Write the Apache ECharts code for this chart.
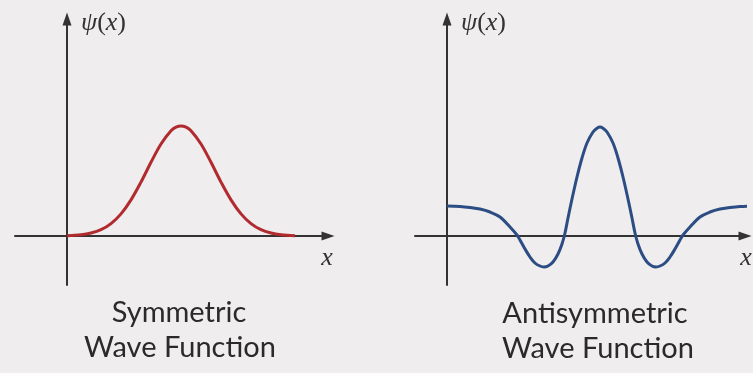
<!DOCTYPE html>
<html>
<head>
<meta charset="utf-8">
<script src="https://cdn.jsdelivr.net/npm/echarts@6/dist/echarts.min.js"></script>
<style>
body{margin:0;background:#efeded;}
#waveChart{width:753px;height:373px;}
</style>
</head>
<body>
<div id="waveChart"></div>
<script>
// symmetric wave function (left panel), x/y in units of 10px from origin
var symX = [0, 1.4, 2.4, 3.4, 4.4, 5.4, 6.4, 7.4, 8.4, 9.4, 10.4, 10.9, 11.4, 11.9, 12.4, 13.4, 14.4, 15.4, 16.4, 17.4, 18.4, 19.4, 20.4, 21.4, 22.8];
var symY = [0.03, 0.13, 0.30, 0.63, 1.24, 2.21, 3.61, 5.39, 7.37, 9.20, 10.52, 10.88, 11.0, 10.88, 10.52, 9.20, 7.37, 5.39, 3.61, 2.21, 1.24, 0.63, 0.30, 0.13, 0.03];

// antisymmetric wave function (right panel)
var antiX = [0, 1.3, 2.3, 3.3, 4.3, 5.3, 6.3, 7.0, 7.3, 7.8, 8.3, 8.8, 9.3, 9.7, 10.1, 10.6, 11.1, 11.5, 11.8, 12.1, 12.5, 13.0, 13.5, 14.0, 14.6, 15.0, 15.3,
	15.6, 16.0, 16.6, 17.1, 17.6, 18.1, 18.5, 18.8, 19.1, 19.5, 20.0, 20.5, 20.9, 21.3, 21.8, 22.3, 22.8, 23.3, 23.6, 24.3, 25.3, 26.3, 27.3, 28.3, 29.3, 30.6];
var antiY = [3.0, 2.95, 2.85, 2.7, 2.4, 1.9, 0.9, 0.1, -0.4, -1.3, -2.1, -2.7, -3.0, -3.1, -3.0, -2.6, -1.8, -0.8, 0.3, 1.8, 3.7, 5.9, 7.8, 9.3, 10.4, 10.78, 10.9,
	10.78, 10.4, 9.3, 7.8, 5.9, 3.7, 1.8, 0.3, -0.8, -1.8, -2.6, -3.0, -3.1, -3.0, -2.7, -2.1, -1.3, -0.4, 0.1, 0.9, 1.9, 2.4, 2.7, 2.85, 2.95, 3.0];

var captions = [["Symmetric", "Wave Function"], ["Antisymmetric", "Wave Function"]];
var xName = "x";

function pairs(xs, ys){
	var out = [];
	for(var i = 0; i < xs.length; i++){
		out.push([xs[i], ys[i]]);
	}
	return out;
}

var axisColor = "#333";
function makeXAxis(idx, min, max){
	return {
		type: 'value', gridIndex: idx, min: min, max: max,
		axisLine: {onZero: true, symbol: ['none', 'triangle'], symbolSize: [9, 13], lineStyle: {color: axisColor, width: 2}},
		axisTick: {show: false}, axisLabel: {show: false}, splitLine: {show: false}
	};
}
function makeYAxis(idx){
	return {
		type: 'value', gridIndex: idx, min: -4.9, max: 21.7,
		axisLine: {onZero: true, symbol: ['none', 'triangle'], symbolSize: [9, 13], lineStyle: {color: axisColor, width: 2}},
		axisTick: {show: false}, axisLabel: {show: false}, splitLine: {show: false}
	};
}

// ψ(x): italic letters, upright brackets
var nameRich = {
	i: {font: 'italic 26px "Liberation Serif"', fill: '#333'},
	r: {font: '26px "Liberation Serif"', fill: '#333'}
};
function nameText(x, y){
	return {
		type: 'text', x: x, y: y,
		style: {text: '{i|ψ}{r|(}{i|x}{r|)}', rich: nameRich, font: '26px "Liberation Serif"', fill: '#333', verticalAlign: 'middle'}
	};
}
function xText(x, y){
	return {
		type: 'text', x: x, y: y,
		style: {text: xName, font: 'italic 26px "Liberation Serif"', fill: '#333', align: 'center', verticalAlign: 'middle'}
	};
}
function caption(x, y, txt){
	return {
		type: 'text', x: x, y: y,
		style: {text: txt, font: '29px Lato', fill: '#2a2a2a', align: 'center', verticalAlign: 'middle'}
	};
}

var waveChart = echarts.init(document.getElementById('waveChart'));
var option = {
	backgroundColor: '#efeded',
	animation: false,
	grid: [
		{left: 15, top: 19, width: 313, height: 266},
		{left: 415, top: 19, width: 330, height: 266}
	],
	xAxis: [makeXAxis(0, -5.2, 26.1), makeXAxis(1, -3.2, 29.8)],
	yAxis: [makeYAxis(0), makeYAxis(1)],
	series: [
		{
			type: 'line', xAxisIndex: 0, yAxisIndex: 0,
			data: pairs(symX, symY),
			smooth: 0.35, showSymbol: false, clip: false,
			lineStyle: {color: '#b02a2e', width: 3}
		},
		{
			type: 'line', xAxisIndex: 1, yAxisIndex: 1,
			data: pairs(antiX, antiY),
			smooth: 0.35, showSymbol: false, clip: false,
			lineStyle: {color: '#2c4d84', width: 3}
		}
	],
	graphic: [
		nameText(81, 23),
		nameText(461, 23),
		xText(327, 258),
		xText(746, 258),
		caption(179, 313, captions[0][0]),
		caption(180, 348, captions[0][1]),
		caption(595, 314, captions[1][0]),
		caption(598, 349, captions[1][1])
	]
};
waveChart.setOption(option);
</script>
</body>
</html>
